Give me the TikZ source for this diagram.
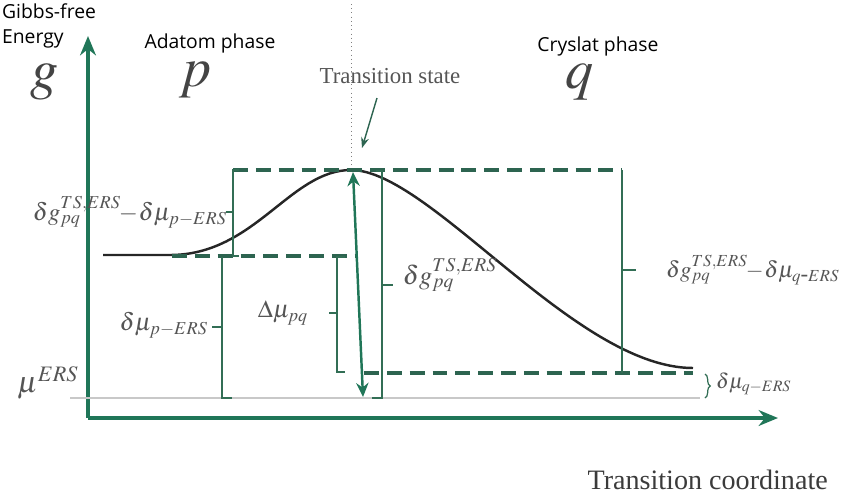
\documentclass[tikz,border=0pt]{standalone}
\usepackage{mathptmx}
\usepackage{fontspec}
\setmainfont{Liberation Serif}
\newfontfamily\sansf{Open Sans}
\usepackage{xcolor}
\definecolor{verdeEje}{RGB}{32,118,88}
\definecolor{verdeNivel}{RGB}{45,100,80}
\definecolor{verdeLlave}{RGB}{50,110,85}
\definecolor{grisTexto}{RGB}{85,85,85}
\definecolor{grisRef}{RGB}{200,200,200}
\usetikzlibrary{arrows.meta, positioning, decorations.pathreplacing}

\begin{document}
\begin{tikzpicture}[
  x=0.02cm, y=-0.02cm,
  axis/.style={-{Stealth[length=11pt, width=9pt]}, line width=2pt, color=verdeEje},
  level/.style={dashed, dash pattern=on 8.5pt off 4.5pt, line width=1.8pt, color=verdeNivel},
  brk/.style={line width=0.7pt, color=verdeLlave},
  dbl/.style={{Stealth[length=8pt, width=7pt]}-{Stealth[length=8pt, width=7pt]}, line width=1.4pt, color=verdeEje},
  lbl/.style={font=\fontsize{14}{16}\selectfont, text=grisTexto, inner sep=1pt},
  phase/.style={font=\sansf\fontsize{11}{14}\selectfont, inner sep=1pt},
  big/.style={font=\fontsize{32}{34}\selectfont, text=grisTexto!80!black, inner sep=0pt,
              text height=0.45em, text depth=0.2em}
]
\useasboundingbox (0,0) rectangle (852,495);

% Ejes
\coordinate (O) at (88,418);
\coordinate (ytip) at (88,36);
\coordinate (xtip) at (778,418);
\draw[axis] (O) -- (ytip);
\draw[axis] (O) -- (xtip);

% Nivel de referencia
\coordinate (ref0) at (70,398);
\coordinate (ref1) at (700,398);
\draw[grisRef, line width=1.2pt] (ref0) -- (ref1);

% Curva de energia
\coordinate (start) at (103,255);
\coordinate (flat) at (170,255);
\coordinate (ts) at (351,170);
\coordinate (fin) at (693,368);
\draw[dotted, gray] (351,4) -- (ts);
\draw[line width=1.4pt, black!85] (start) -- (flat)
  .. controls (255,255) and (290,170) .. (ts)
  .. controls (430,170) and (575,368) .. (fin);

% Niveles discontinuos
\coordinate (pL) at (172,256);
\coordinate (pR) at (356,256);
\coordinate (tL) at (233,170);
\coordinate (tR) at (622,170);
\coordinate (qL) at (364,373);
\coordinate (qR) at (693,373);
\draw[level] (pL) -- (pR);
\draw[level] (tL) -- (tR);
\draw[level] (qL) -- (qR);

% Llaves
\draw[brk] (239,170) -- (233,170) -- (233,256) -- (239,256);
\draw[brk] (233,212) -- (226,212);
\draw[brk] (222,257) -- (222,398) -- (232,398);
\draw[brk] (222,327) -- (212,327);
\draw[brk] (345,257) -- (337,257) -- (337,372) -- (345,372);
\draw[brk] (337,313) -- (329,313);
\draw[brk] (376,171) -- (382,171) -- (382,398) -- (372,398);
\draw[brk] (382,285) -- (393,285);
\draw[brk] (tR) -- (622,373);
\draw[brk] (622,270) -- (636,270);
\draw[brk, decorate, decoration={brace, amplitude=3pt}] (705,374) -- (705,398);

% Flecha doble
\coordinate (dtop) at (353,172);
\coordinate (dbot) at (363,397);
\draw[dbl] (dtop) -- (dbot);

% Estado de transicion
\node[font=\fontsize{13}{15}\selectfont, text=grisTexto] (TSlab) at (390,76) {Transition state};
\coordinate (tsarr) at (362,148);
\draw[-{Stealth[length=6pt]}, line width=0.8pt, color=verdeNivel] (377,98) -- (tsarr);

% Titulos
\node[phase, anchor=north west, align=left] (gibbs) at (0,2) {Gibbs-free\\Energy};
\node[phase] (adatom) at (210,43) {Adatom phase};
\node[phase] (cryst) at (598,46) {Cryslat phase};
\node[big] (gsym) at (45,86) {$g$};
\node[big] (psym) at (195,84) {$p$};
\node[big] (qsym) at (580,86) {$q$};

% Etiquetas
\node[lbl, anchor=east] (l1) at (229,212) {$\delta g_{pq}^{TS,ERS}\!\!-\!\delta\mu_{p-ERS}$};
\node[lbl, anchor=east] (l2) at (210,325) {$\delta\mu_{p-ERS}$};
\node[lbl] (l3) at (283,313) {$\Delta\mu_{pq}$};
\node[lbl, font=\fontsize{15}{17}\selectfont] (l4) at (450,275) {$\delta g_{pq}^{TS,ERS}$};
\node[lbl, anchor=west, font=\fontsize{13}{15}\selectfont] (l5) at (664,270) {$\delta g_{pq}^{TS,ERS}\!\!-\!\delta\mu_{q\mbox{-}ERS}$};
\node[lbl, font=\fontsize{17}{19}\selectfont] (mu) at (48,383) {$\mu^{ERS}$};
\node[lbl, anchor=west, font=\fontsize{12}{14}\selectfont] (l6) at (714,384) {$\delta\mu_{q-ERS}$};
\node[font=\fontsize{16}{18}\selectfont, text=grisTexto!70!black, anchor=east] (xlab) at (834,480) {Transition coordinate};

\end{tikzpicture}
\end{document}
